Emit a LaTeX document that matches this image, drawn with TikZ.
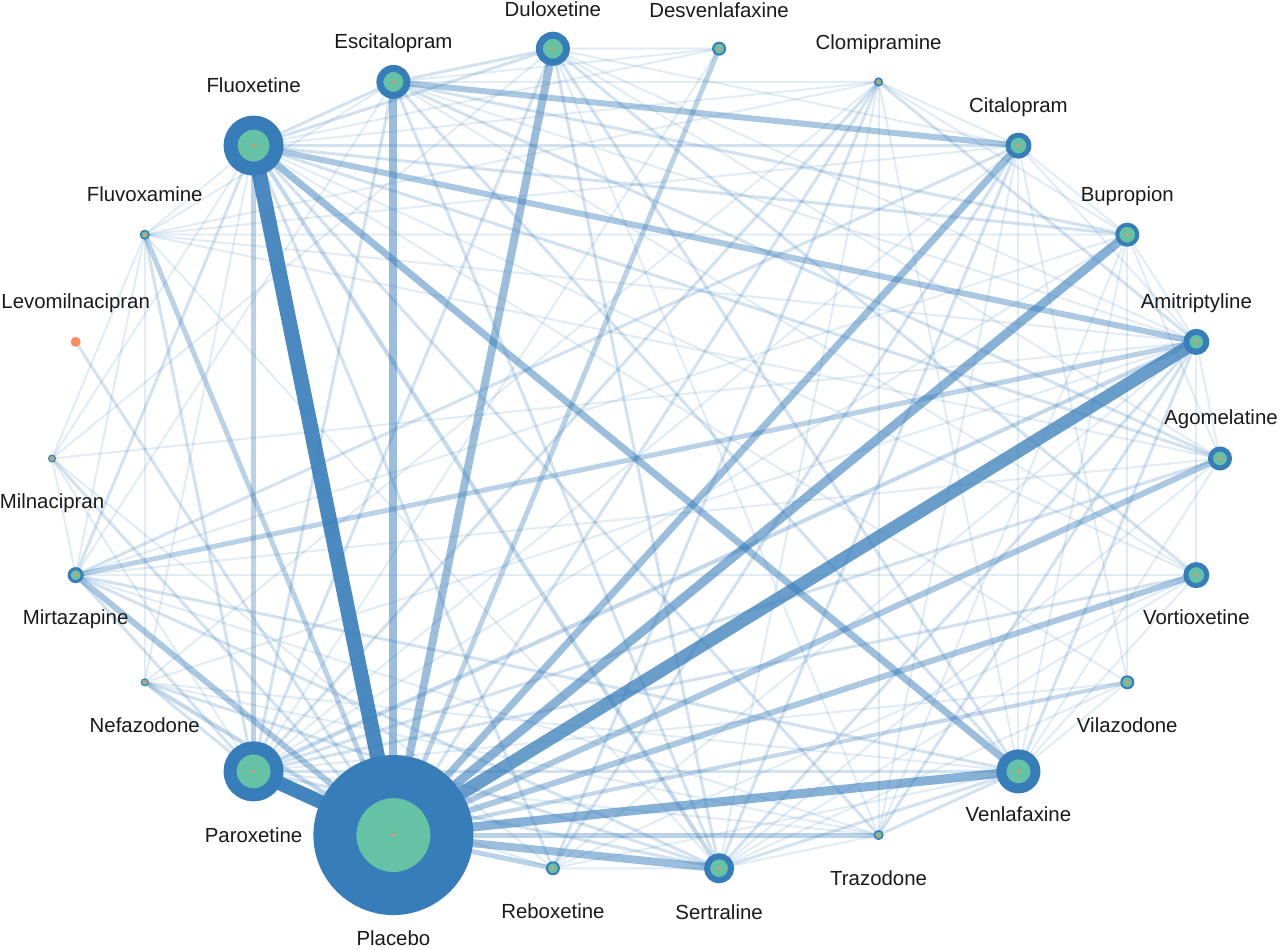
\documentclass[tikz,border=0pt]{standalone}
\usepackage{fontspec}
\setmainfont{Liberation Sans}
\usetikzlibrary{positioning,calc}
\pgfdeclarelayer{links}
\pgfsetlayers{links,main}
\definecolor{netblue}{RGB}{55,125,186}
\definecolor{netgreen}{RGB}{102,194,165}
\definecolor{netorange}{RGB}{252,141,98}

\tikzset{
  drug/.style 2 args={circle, inner sep=0pt, draw=netblue, fill=netgreen,
    line width=(#1-#2)*0.5pt, minimum size=(#1+#2)*0.5pt,
    path picture={\fill[netorange] (path picture bounding box.center) circle (0.9pt);}},
  drugname/.style={font=\fontsize{10.2}{12}\selectfont, text=black!90, inner sep=0pt,
    text height=7.4pt, text depth=0pt},
  link/.style 2 args={every edge/.style={draw=netblue, line width=#1*0.5pt, draw opacity=#2}}
}

\begin{document}
\begin{tikzpicture}[x=0.5pt, y=0.5pt]
\useasboundingbox (0,0) rectangle (1280,949);
\begin{scope}[shift={(636,490.5)}]
  % Drugs round an ellipse, alphabetical, counter-clockwise from the right
  \path (0*360/22:584 and 414) node[drug={12}{7}] (ago) {};
  \path (1*360/22:584 and 414) node[drug={13}{7}] (ami) {};
  \path (2*360/22:584 and 414) node[drug={12}{8}] (bup) {};
  \path (3*360/22:584 and 414) node[drug={13}{8}] (cit) {};
  \path (4*360/22:584 and 414) node[drug={4.5}{3}] (clo) {};
  \path (5*360/22:584 and 414) node[drug={7}{5}] (des) {};
  \path (6*360/22:584 and 414) node[drug={17}{10}] (dul) {};
  \path (7*360/22:584 and 414) node[drug={17}{10}] (esc) {};
  \path (8*360/22:584 and 414) node[drug={30}{16}] (flx) {};
  \path (9*360/22:584 and 414) node[drug={5}{3.5}] (flv) {};
  \path (10*360/22:584 and 414) node[circle, inner sep=0pt, fill=netorange, minimum size=5pt] (lev) {};
  \path (11*360/22:584 and 414) node[drug={4}{3}] (mil) {};
  \path (12*360/22:584 and 414) node[drug={8}{5}] (mir) {};
  \path (13*360/22:584 and 414) node[drug={4}{3}] (nef) {};
  \path (14*360/22:584 and 414) node[drug={30}{17}] (par) {};
  \path (15*360/22:584 and 414) node[drug={80}{37}] (pla) {};
  \path (16*360/22:584 and 414) node[drug={7}{5}] (reb) {};
  \path (17*360/22:584 and 414) node[drug={15}{9}] (ser) {};
  \path (18*360/22:584 and 414) node[drug={5}{3.5}] (tra) {};
  \path (19*360/22:584 and 414) node[drug={22}{12}] (ven) {};
  \path (20*360/22:584 and 414) node[drug={7}{5}] (vil) {};
  \path (21*360/22:584 and 414) node[drug={13}{8}] (vor) {};

  % Names
  \node[drugname, above=10.8pt of ago, xshift=0.5pt] (ago-name) {Agomelatine};
  \node[drugname, above=9.8pt of ami] (ami-name) {Amitriptyline};
  \node[drugname, above=10.3pt of bup] (bup-name) {Bupropion};
  \node[drugname, above=9.8pt of cit] (cit-name) {Citalopram};
  \node[drugname, above=14pt of clo] (clo-name) {Clomipramine};
  \node[drugname, above=12pt of des] (des-name) {Desvenlafaxine};
  \node[drugname, above=7.3pt of dul] (dul-name) {Duloxetine};
  \node[drugname, above=7.8pt of esc] (esc-name) {Escitalopram};
  \node[drugname, above=11.3pt of flx] (flx-name) {Fluoxetine};
  \node[drugname, above=13.8pt of flv] (flv-name) {Fluvoxamine};
  \node[drugname, above=13.8pt of lev] (lev-name) {Levomilnacipran};
  \node[drugname, below=15.3pt of mil] (mil-name) {Milnacipran};
  \node[drugname, below=13.3pt of mir] (mir-name) {Mirtazapine};
  \node[drugname, below=15.3pt of nef] (nef-name) {Nefazodone};
  \node[drugname, below=12.8pt of par] (par-name) {Paroxetine};
  \node[drugname, below=7.6pt of pla] (pla-name) {Placebo};
  \node[drugname, below=13.8pt of reb] (reb-name) {Reboxetine};
  \node[drugname, below=10.3pt of ser] (ser-name) {Sertraline};
  \node[drugname, below=15.3pt of tra] (tra-name) {Trazodone};
  \node[drugname, below=6.3pt of ven] (ven-name) {Venlafaxine};
  \node[drugname, below=13.8pt of vil] (vil-name) {Vilazodone};
  \node[drugname, below=10.8pt of vor] (vor-name) {Vortioxetine};
\end{scope}

\begin{pgfonlayer}{links}
  % thin comparisons
  \path[link={2}{.15}]
    (flx.center) edge (vor.center) (flx.center) edge (clo.center) (flx.center) edge (mil.center)
    (flx.center) edge (flv.center) (flx.center) edge (nef.center) (flx.center) edge (des.center)
    (flx.center) edge (vil.center)
    (par.center) edge (cit.center) (par.center) edge (bup.center) (par.center) edge (reb.center)
    (par.center) edge (tra.center) (par.center) edge (mil.center) (par.center) edge (vil.center)
    (par.center) edge (des.center)
    (ami.center) edge (flv.center) (ami.center) edge (nef.center) (ami.center) edge (reb.center)
    (ami.center) edge (cit.center) (ami.center) edge (bup.center) (ami.center) edge (esc.center)
    (ami.center) edge (dul.center) (ami.center) edge (ago.center) (ami.center) edge (vor.center)
    (ami.center) edge (mil.center)
    (esc.center) edge (vor.center) (esc.center) edge (des.center) (esc.center) edge (clo.center)
    (esc.center) edge (flv.center) (esc.center) edge (mir.center)
    (dul.center) edge (ago.center) (dul.center) edge (cit.center) (dul.center) edge (des.center)
    (dul.center) edge (tra.center) (dul.center) edge (mil.center)
    (cit.center) edge (tra.center) (cit.center) edge (vil.center) (cit.center) edge (flv.center)
    (cit.center) edge (ven.center) (cit.center) edge (bup.center) (cit.center) edge (clo.center)
    (bup.center) edge (tra.center) (bup.center) edge (flv.center) (bup.center) edge (vil.center)
    (bup.center) edge (mir.center) (bup.center) edge (ven.center) (bup.center) edge (ago.center)
    (bup.center) edge (clo.center)
    (ven.center) edge (reb.center) (ven.center) edge (nef.center) (ven.center) edge (ago.center)
    (ven.center) edge (vor.center) (ven.center) edge (vil.center) (ven.center) edge (clo.center)
    (ser.center) edge (flv.center) (ser.center) edge (reb.center) (ser.center) edge (tra.center)
    (ser.center) edge (ago.center) (ser.center) edge (vor.center) (ser.center) edge (clo.center)
    (ser.center) edge (vil.center)
    (mir.center) edge (ago.center) (mir.center) edge (vor.center) (mir.center) edge (tra.center)
    (mir.center) edge (flv.center) (mir.center) edge (mil.center)
    (flv.center) edge (mil.center) (flv.center) edge (nef.center) (flv.center) edge (clo.center)
    (flv.center) edge (ago.center)
    (nef.center) edge (tra.center) (nef.center) edge (clo.center)
    (reb.center) edge (vor.center) (reb.center) edge (mil.center)
    (clo.center) edge (tra.center);
  % medium comparisons
  \path[link={3}{.22}]
    (flx.center) edge (esc.center) (flx.center) edge (dul.center) (flx.center) edge (cit.center)
    (flx.center) edge (bup.center) (flx.center) edge (ago.center) (flx.center) edge (mir.center)
    (flx.center) edge (reb.center) (flx.center) edge (tra.center)
    (par.center) edge (ser.center) (par.center) edge (mir.center) (par.center) edge (esc.center)
    (par.center) edge (dul.center) (par.center) edge (ago.center) (par.center) edge (flv.center)
    (par.center) edge (nef.center) (par.center) edge (clo.center) (par.center) edge (vor.center)
    (par.center) edge (ven.center)
    (ami.center) edge (ser.center) (ami.center) edge (ven.center) (ami.center) edge (tra.center)
    (ami.center) edge (clo.center)
    (esc.center) edge (ser.center) (esc.center) edge (dul.center) (esc.center) edge (ven.center)
    (esc.center) edge (bup.center) (esc.center) edge (ago.center)
    (dul.center) edge (ven.center) (dul.center) edge (ser.center) (dul.center) edge (vor.center)
    (cit.center) edge (ser.center) (cit.center) edge (mir.center) (cit.center) edge (reb.center)
    (ven.center) edge (ser.center) (ven.center) edge (mir.center) (ven.center) edge (tra.center)
    (ser.center) edge (mir.center) (ser.center) edge (nef.center)
    (clo.center) edge (reb.center)
    (pla.center) edge (mil.center) (pla.center) edge (clo.center) (pla.center) edge (lev.center);
  \path[link={4}{.3}]
    (pla.center) edge (vil.center) (pla.center) edge (nef.center)
    (flx.center) edge (ser.center) (par.center) edge (ami.center);
  \path[link={5}{.35}]
    (pla.center) edge (reb.center) (pla.center) edge (tra.center) (pla.center) edge (des.center)
    (pla.center) edge (flv.center) (flx.center) edge (par.center) (ami.center) edge (mir.center);
  \path[link={6}{.42}]
    (pla.center) edge (vor.center) (pla.center) edge (ago.center) (pla.center) edge (mir.center)
    (flx.center) edge (ami.center) (esc.center) edge (cit.center);
  % heavy comparisons
  \path[link={7}{.5}] (pla.center) edge (cit.center) (flx.center) edge (ven.center);
  \path[link={8}{.5}] (pla.center) edge (dul.center) (pla.center) edge (esc.center) (pla.center) edge (ser.center);
  \path[link={9}{.6}] (pla.center) edge (bup.center) (pla.center) edge (ven.center);
  \path[link={13}{.75}] (pla.center) edge (ami.center);
  \path[link={14}{.95}] (pla.center) edge (par.center);
  \path[link={15}{.9}] (pla.center) edge (flx.center);
\end{pgfonlayer}
\end{tikzpicture}
\end{document}
